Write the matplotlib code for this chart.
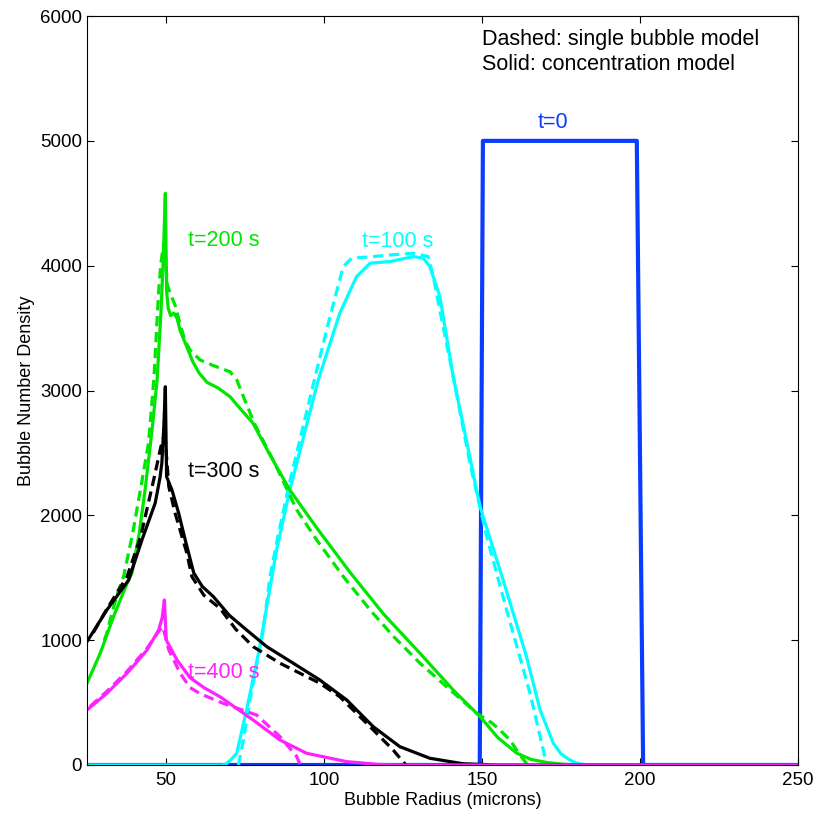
import numpy as np
import matplotlib
matplotlib.use("Agg")
import matplotlib.pyplot as plt

plt.rcParams['font.family'] = ['Liberation Sans', 'DejaVu Sans']

# t = 0 (initial distribution)
t0_x = [25, 149.3, 150.3, 199, 201, 250]
t0_y = [0, 0, 5000, 5000, 0, 0]

# t = 100 s
c_sol_x = [25, 68, 69.2, 70.5, 72.4, 75.5, 79.7, 85, 89.2, 98.2, 105, 110.3, 114.6, 120.9, 128.3, 131.4,
           133.5, 136.7, 140.9, 145.7, 149.4, 156.7, 164.1, 168.4, 172.6, 175, 177.8, 180, 183, 250]
c_sol_y = [0, 0, 13, 40, 94, 440, 948, 1723, 2203, 3085, 3619, 3912, 4020, 4033, 4073, 4060,
           3993, 3752, 3111, 2524, 2070, 1482, 868, 440, 174, 90, 40, 15, 0, 0]
c_dsh_x = [72.9, 74.5, 76.6, 80.8, 82.9, 85.5, 89, 97.2, 102, 106.1, 108.8, 115.6, 120.9, 128.3, 133,
           134.6, 137, 140.9, 146.2, 151.5, 157.8, 165.2, 169.4, 170.5]
c_dsh_y = [0, 200, 521, 1082, 1509, 1840, 2250, 3111, 3600, 3993, 4060, 4073, 4086, 4100, 4073,
           3912, 3600, 3111, 2417, 1829, 1242, 575, 120, 0]

# t = 200 s
g_sol_x = [25, 29.2, 33.4, 37.7, 39.2, 41.5, 43.4, 45.6, 47.2, 48.4, 49.1, 49.8, 50.2, 50.7, 51.5,
           52.5, 53.5, 54.5, 56.6, 58.5, 60.5, 63, 66.5, 70.3, 74, 77.5, 83, 89.2, 97.7, 108.2, 119,
           130.4, 140.9, 149.4, 155, 161, 165.5, 170.5, 175, 180, 250]
g_sol_y = [655, 895, 1188, 1456, 1535, 1850, 2203, 2684, 3085, 3620, 4020, 4580, 3800, 3660, 3600,
           3620, 3580, 3480, 3350, 3230, 3140, 3065, 3020, 2950, 2840, 2740, 2480, 2203, 1900, 1545, 1205,
           895, 601, 387, 220, 95, 45, 20, 8, 0, 0]
g_dsh_x = [30.5, 31.3, 32.9, 35, 36.6, 39.5, 41.9, 44.5, 46.2, 47.7, 48.4, 49.3, 49.6, 50.4, 51.3,
           52.8, 54.4, 56, 57.6, 60.8, 65, 70.3, 72.4, 75, 78.2, 83.9, 91.4, 97.7, 106.1, 115, 122,
           130.4, 138.8, 148.3, 153, 155.7, 158.9, 162, 164.5]
g_dsh_y = [1000, 1057, 1218, 1402, 1510, 1860, 2203, 2580, 3100, 3800, 4020, 4180, 4200, 3850, 3780,
           3690, 3540, 3400, 3325, 3245, 3200, 3150, 3085, 2920, 2725, 2444, 2043, 1803, 1510, 1230, 1030,
           815, 627, 415, 340, 280, 200, 80, 0]

# t = 300 s
k_sol_x = [25, 31.3, 38.2, 42.4, 46.6, 48.1, 48.7, 49.3, 49.8, 50.2, 51.9, 54, 56.1, 58.8, 61.5, 65,
           70, 75.5, 81.9, 90.3, 98.7, 107.2, 115.6, 124, 133.5, 144, 155, 250]
k_sol_y = [988, 1242, 1482, 1803, 2099, 2300, 2420, 2700, 3030, 2310, 2203, 2019, 1803, 1538, 1430, 1349,
           1200, 1082, 948, 815, 681, 521, 307, 147, 54, 10, 0, 0]
k_dsh_x = [27, 31.3, 37.7, 42, 46.1, 48.4, 49.3, 49.8, 50.9, 52.9, 56.6, 58.2, 62, 67.1, 72, 77.6,
           86.1, 92.4, 98.7, 105, 113.5, 121.9, 125, 126]
k_dsh_y = [1060, 1250, 1510, 1830, 2283, 2550, 2630, 2600, 2230, 2017, 1698, 1509, 1360, 1255, 1090, 948,
           815, 735, 655, 547, 334, 120, 27, 0]

# t = 400 s
m_sol_x = [25, 31.3, 37.7, 44, 47.7, 48.8, 49.5, 50.1, 53.5, 57.6, 62, 67.1, 77.6, 86.1, 94.5, 107.2,
           117, 125, 250]
m_sol_y = [440, 575, 735, 921, 1082, 1180, 1322, 1001, 841, 700, 620, 547, 360, 200, 94, 27,
           5, 0, 0]
m_dsh_x = [26, 31.3, 37.7, 44, 47.7, 49, 50.9, 54.5, 57.6, 60.9, 68.1, 78.7, 86.1, 91.4, 92.5]
m_dsh_y = [470, 590, 750, 935, 1070, 1108, 921, 735, 620, 570, 494, 400, 227, 67, 0]

blue = '#0a3cff'
cyan = '#00ffff'
green = '#00e600'
black = '#000000'
magenta = '#ff22ff'
lw = 2.3
dash = (3.2, 1.8)

fig = plt.figure(figsize=(8.15, 8.14), dpi=100)
ax = fig.add_axes([0.1067, 0.0602, 0.8724, 0.9201])

solid = dict(lw=lw, solid_joinstyle='round')
dashed = dict(lw=lw, dashes=dash, dash_joinstyle='round')

ax.plot(t0_x, t0_y, color=blue, lw=3.0)
ax.plot(c_sol_x, c_sol_y, color=cyan, **solid)
ax.plot(c_dsh_x, c_dsh_y, color=cyan, **dashed)
ax.plot(g_sol_x, g_sol_y, color=green, **solid)
ax.plot(g_dsh_x, g_dsh_y, color=green, **dashed)
ax.plot(k_sol_x, k_sol_y, color=black, **solid)
ax.plot(k_dsh_x, k_dsh_y, color=black, **dashed)
ax.plot(m_sol_x, m_sol_y, color=magenta, **solid)
ax.plot(m_dsh_x, m_dsh_y, color=magenta, **dashed)

fs = 15.5
ax.text(172.5, 5060, 't=0', color=blue, fontsize=fs, ha='center', va='bottom')
ax.text(112, 4190, 't=100 s', color=cyan, fontsize=fs, ha='left', va='center')
ax.text(57, 4200, 't=200 s', color=green, fontsize=fs, ha='left', va='center')
ax.text(57, 2350, 't=300 s', color=black, fontsize=fs, ha='left', va='center')
ax.text(57, 745, 't=400 s', color=magenta, fontsize=fs, ha='left', va='center')
ax.text(150, 5900, 'Dashed: single bubble model\nSolid: concentration model', fontsize=fs,
        ha='left', va='top', linespacing=1.3)

ax.set_xlim(25, 250)
ax.set_ylim(0, 6000)
ax.set_xticks([50, 100, 150, 200, 250])
ax.set_yticks(np.arange(0, 6001, 1000))
ax.tick_params(direction='in', length=5, width=0.8, top=True, right=True, labelsize=13.5)
ax.tick_params(axis='x', pad=5)
ax.set_xlabel('Bubble Radius (microns)', fontsize=13, labelpad=2)
ax.set_ylabel('Bubble Number Density', fontsize=13, labelpad=4)

fig.savefig('out.png', dpi=100)
